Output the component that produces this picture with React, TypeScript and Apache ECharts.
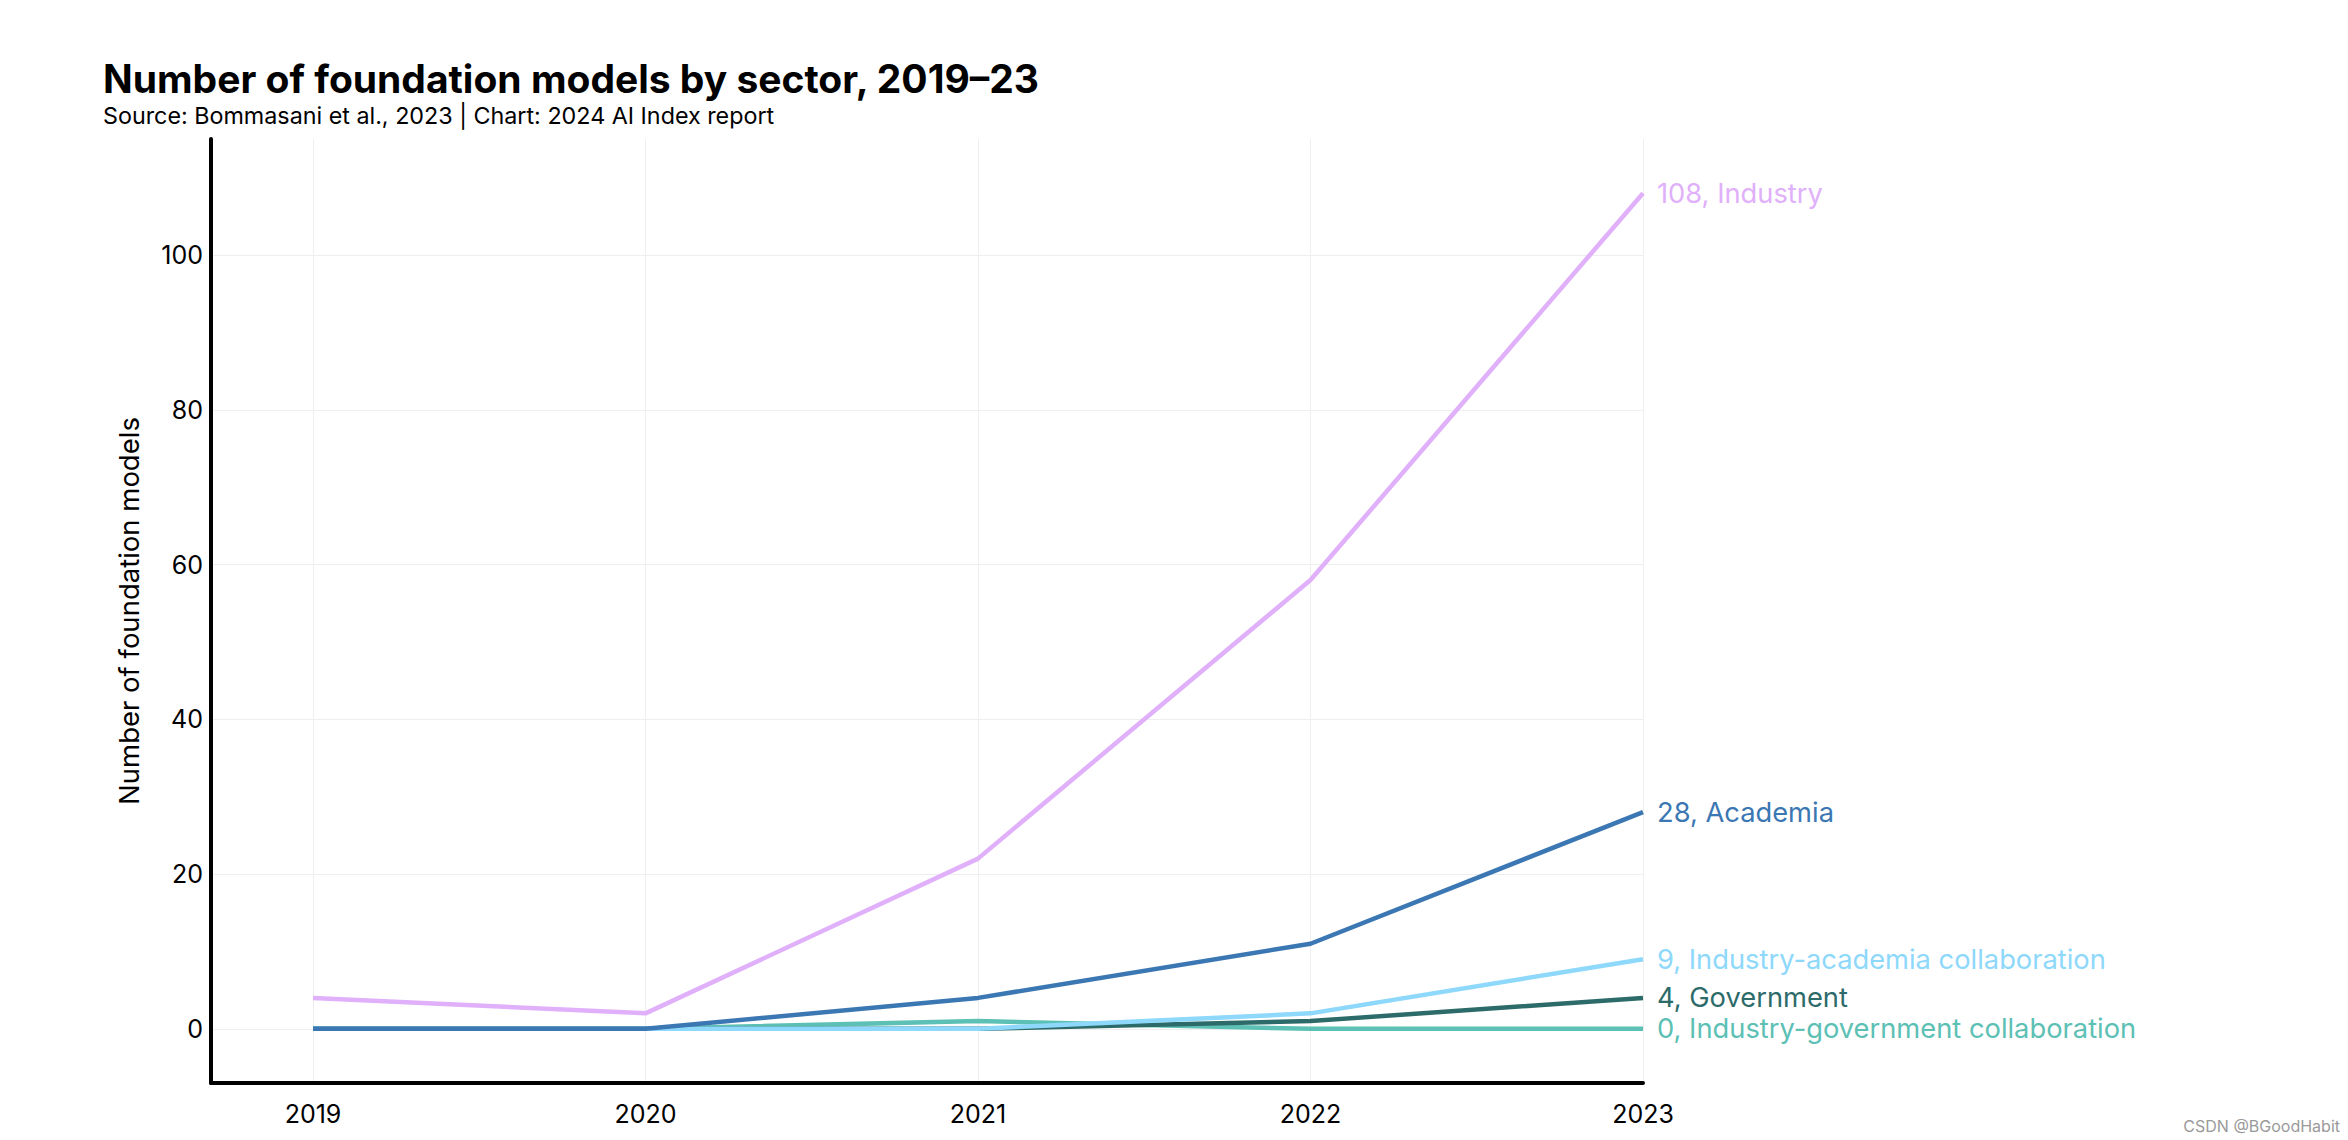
import React, { useEffect, useRef } from "react";
import * as echarts from "echarts";

const years = [2019, 2020, 2021, 2022, 2023];
const industry = [4, 2, 22, 58, 108];
const academia = [0, 0, 4, 11, 28];
const industryAcademia = [0, 0, 0, 2, 9];
const government = [0, 0, 0, 1, 4];
const industryGovernment = [0, 0, 1, 0, 0];
const yTicks = [0, 20, 40, 60, 80, 100];

const seriesDefs = [
  { name: "Industry-government collaboration", values: industryGovernment, color: "#5cc0b4" },
  { name: "Government", values: government, color: "#2d6b6a" },
  { name: "Industry-academia collaboration", values: industryAcademia, color: "#8dd8fb" },
  { name: "Academia", values: academia, color: "#3b77b2" },
  { name: "Industry", values: industry, color: "#e0b0fa" },
];

const FONT = "Inter";

export default function App() {
  const ref = useRef<HTMLDivElement>(null);
  useEffect(() => {
    if (!ref.current) return;
    const chart = echarts.init(ref.current, null, { renderer: "svg" });
    chart.setOption({
      animation: false,
      backgroundColor: "#ffffff",
      textStyle: { fontFamily: FONT },
      title: {
        text: "Number of foundation models by sector, 2019–23",
        subtext: "Source: Bommasani et al., 2023 | Chart: 2024 AI Index report",
        left: 98,
        top: 53,
        itemGap: 4,
        textStyle: { fontFamily: FONT, fontSize: 39, fontWeight: "bold", color: "#000", lineHeight: 40 },
        subtextStyle: { fontFamily: FONT, fontSize: 23.3, color: "#000", lineHeight: 26 },
      },
      grid: { left: 211, right: 705, top: 139, bottom: 57, containLabel: false },
      xAxis: {
        type: "value",
        min: 2019 - 102 / 332.5,
        max: 2023,
        axisLine: { show: true, onZero: false, lineStyle: { color: "#000", width: 4 } },
        axisTick: { show: false, customValues: years },
        axisLabel: {
          customValues: years,
          fontSize: 25,
          color: "#000",
          margin: 18,
          fontFamily: FONT,
          formatter: (v: number) => String(v),
        },
        splitLine: { show: true, lineStyle: { color: "#eeeeee", width: 1 } },
      },
      yAxis: {
        type: "value",
        min: -7,
        max: 115,
        name: "Number of foundation models",
        nameLocation: "middle",
        nameGap: 68,
        nameTextStyle: { fontSize: 27.5, color: "#000", fontFamily: FONT },
        axisLine: { show: true, onZero: false, lineStyle: { color: "#000", width: 4 } },
        axisTick: { show: false, customValues: yTicks },
        axisLabel: { customValues: yTicks, fontSize: 25, color: "#000", margin: 8, fontFamily: FONT },
        splitLine: { show: true, lineStyle: { color: "#eeeeee", width: 1 } },
      },
      series: seriesDefs.map((s) => ({
        name: s.name,
        type: "line",
        data: years.map((y, i) => [y, s.values[i]]),
        symbol: "none",
        lineStyle: { color: s.color, width: 4.5 },
        itemStyle: { color: s.color },
        endLabel: {
          show: true,
          distance: 14,
          fontSize: 27.3,
          fontFamily: FONT,
          color: s.color,
          formatter: (p: any) => `${p.value[1]}, ${p.seriesName}`,
        },
      })),
      graphic: [
        {
          type: "text",
          right: 8,
          bottom: 6,
          style: { text: "CSDN @BGoodHabit", fontSize: 16, fill: "#9a9a9a", fontFamily: FONT },
        },
      ],
    });
    return () => chart.dispose();
  }, []);
  return (
    <div
      ref={ref}
      style={{ position: "fixed", left: 0, top: 0, width: 2348, height: 1140 }}
    />
  );
}
